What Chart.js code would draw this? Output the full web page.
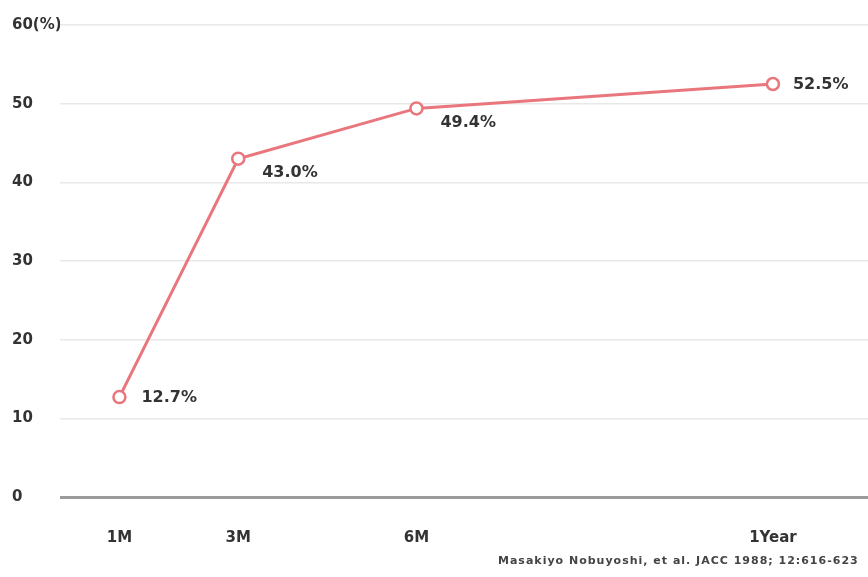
<!DOCTYPE html>
<html>
<head>
<meta charset="utf-8">
<script src="https://cdn.jsdelivr.net/npm/chart.js@4"></script>
<style>
  html, body { margin: 0; padding: 0; background: #fff; }
  #wrap { width: 868px; height: 577px; position: relative; }
</style>
</head>
<body>
<div id="wrap"><canvas id="rateChart"></canvas></div>
<script>
// months after the procedure and the rate at each follow-up
const months = [1, 3, 6, 12];
const periodLabels = ['1M', '3M', '6M', '1Year'];
const rates = [12.7, 43.0, 49.4, 52.5];
const yTicks = [0, 10, 20, 30, 40, 50, 60];

const lineColor = '#e9767d';
const textColor = '#333333';
const fontFamily = '"DejaVu Sans", sans-serif';

// label offsets next to each point
const labelOffsets = [[22, 1], [24, 14], [24, 14], [20, 1]];

const valueLabels = {
    id: 'valueLabels',
    afterDatasetsDraw(chart) {
        const ctx = chart.ctx;
        const meta = chart.getDatasetMeta(0);
        ctx.save();
        ctx.font = 'bold 16px ' + fontFamily;
        ctx.fillStyle = textColor;
        ctx.textAlign = 'left';
        ctx.textBaseline = 'middle';
        meta.data.forEach((pt, i) => {
            ctx.fillText(rates[i].toFixed(1) + '%', pt.x + labelOffsets[i][0], pt.y + labelOffsets[i][1]);
        });
        // source note
        ctx.font = 'bold 11px ' + fontFamily;
        ctx.letterSpacing = '1px';
        ctx.fillStyle = '#444';
        ctx.fillText('Masakiyo Nobuyoshi, et al. JACC 1988; 12:616-623', 498, 561);
        ctx.restore();
    }
};

const ctx = document.getElementById('rateChart').getContext('2d');
new Chart(ctx, {
    type: 'line',
    data: {
        datasets: [{
            data: months.map((m, i) => ({ x: m, y: rates[i] })),
            borderColor: lineColor,
            borderWidth: 3,
            pointRadius: 6,
            pointBorderWidth: 2.5,
            pointBackgroundColor: '#fff',
            pointBorderColor: lineColor,
            tension: 0
        }]
    },
    options: {
        responsive: true,
        maintainAspectRatio: false,
        animation: false,
        layout: { autoPadding: false, padding: { top: 25, left: 12, right: 0, bottom: 0 } },
        plugins: {
            legend: { display: false },
            tooltip: { enabled: false }
        },
        scales: {
            x: {
                type: 'linear',
                min: 0,
                max: 13.6,
                afterBuildTicks: axis => { axis.ticks = months.map(v => ({ value: v })); },
                afterFit: axis => { axis.height = 80; },
                grid: { display: false },
                border: { display: false },
                ticks: {
                    padding: 24,
                    color: textColor,
                    font: { family: fontFamily, size: 15, weight: 'bold' },
                    callback: v => periodLabels[months.indexOf(v)]
                }
            },
            y: {
                min: 0,
                max: 60,
                afterBuildTicks: axis => { axis.ticks = yTicks.map(v => ({ value: v })); },
                afterFit: axis => { axis.width = 48; },
                border: { display: false },
                grid: {
                    drawTicks: false,
                    color: c => c.tick && c.tick.value === 0 ? '#9b9b9b' : '#e8e8e8',
                    lineWidth: c => c.tick && c.tick.value === 0 ? 3 : 1.5
                },
                ticks: {
                    crossAlign: 'far',
                    padding: 0,
                    color: textColor,
                    font: { family: fontFamily, size: 15, weight: 'bold' },
                    callback: v => v === 60 ? '60(%)' : v
                }
            }
        }
    },
    plugins: [valueLabels]
});
</script>
</body>
</html>
